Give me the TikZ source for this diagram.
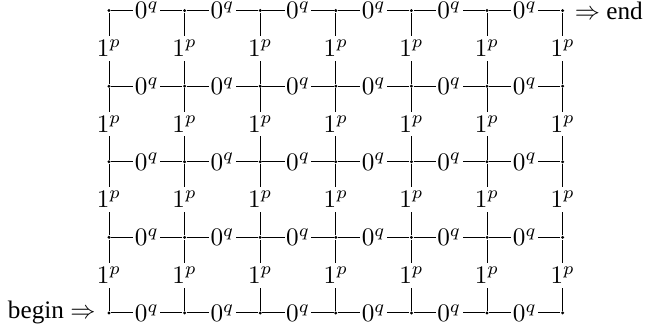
\documentclass[tikz,border=0pt]{standalone}
\usepackage{fontspec}
\newfontfamily\txtfont{Liberation Serif}
\usetikzlibrary{positioning}
\tikzset{
  gridpt/.style={
    circle,
    fill=black,
    inner sep=0pt,
    minimum size=1.3pt
  },
  every edge/.style={
    draw,
    thin
  },
  hlabel/.style={
    fill=white,
    inner sep=0.6pt
  },
  vlabel/.style={
    fill=white,
    inner xsep=0.6pt,
    inner ysep=1.6pt
  },
  endtext/.style={
    font=\txtfont
  }
}

\begin{document}
\begin{tikzpicture}[x=30pt, y=30pt]
  \useasboundingbox (-1.442,-0.278) rectangle (7.103,4.14);
  \foreach \i in {0,...,6}
    \foreach \j in {0,...,4}
      \node[gridpt] (g\i\j) at (\i,\j) {};

  \foreach \i [count=\k] in {0,...,5}
    \foreach \j in {0,...,4}
      \path (g\i\j) edge node[hlabel]{$0^q$} (g\k\j);
  \foreach \i in {0,...,6}
    \foreach \j [count=\k] in {0,...,3}
      \path (g\i\j) edge node[vlabel]{$1^p$} (g\i\k);

  \node[endtext, left=1pt of g00] (begintxt) {begin $\Rightarrow$};
  \node[endtext, right=0.5pt of g64] (endtxt) {$\Rightarrow$ end};
\end{tikzpicture}
\end{document}
